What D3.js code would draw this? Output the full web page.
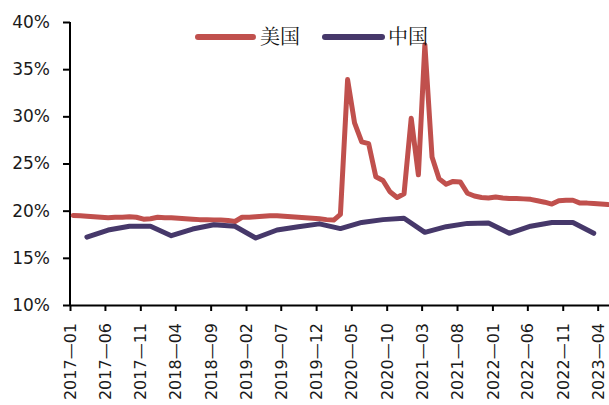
<!DOCTYPE html>
<html><head><meta charset="utf-8">
<script src="https://cdn.jsdelivr.net/npm/d3@7"></script>
<style>body{margin:0;background:#fff} svg{display:block}</style>
</head><body><svg id="c" width="609" height="405"></svg>
<script>
// ---- data ----
const seriesNames = ["美国", "中国"];
const usStart = "2017-01";   // monthly
const usValues = [19.5,19.45,19.4,19.35,19.3,19.25,19.3,19.3,19.35,19.3,19.1,19.15,
  19.3,19.25,19.25,19.2,19.15,19.1,19.05,19.05,19.0,19.0,18.95,18.85,
  19.3,19.3,19.35,19.4,19.45,19.45,19.4,19.35,19.3,19.25,19.2,19.15,
  19.05,19.0,19.6,33.9,29.3,27.3,27.1,23.6,23.2,22.0,21.4,21.8,
  29.8,23.8,37.6,25.7,23.4,22.8,23.1,23.05,21.85,21.55,21.4,21.35,
  21.45,21.35,21.3,21.3,21.25,21.2,21.05,20.9,20.7,21.05,21.1,21.1,
  20.8,20.8,20.75,20.7,20.65];
const cnStart = "2017-03";   // quarterly
const cnValues = [17.2,17.95,18.35,18.35,17.35,18.05,18.5,18.35,17.1,17.95,18.3,18.6,
  18.1,18.75,19.05,19.2,17.7,18.3,18.65,18.7,17.6,18.35,18.75,18.75,17.6];
const xTickLabels = ["2017-01","2017-06","2017-11","2018-04","2018-09","2019-02","2019-07",
  "2019-12","2020-05","2020-10","2021-03","2021-08","2022-01","2022-06","2022-11","2023-04"];
const yTicks = [10,15,20,25,30,35,40];
const colors = ["#C0504D", "#46386A"];

// ---- helpers ----
const parseYM = s => { const [y,m] = s.split("-").map(Number); return new Date(y, m-1, 1); };
const mid = d => new Date(d.getFullYear(), d.getMonth(), 15);
const usData = usValues.map((v,i) => ({date: mid(d3.timeMonth.offset(parseYM(usStart), i)), v}));
const cnData = cnValues.map((v,i) => ({date: mid(d3.timeMonth.offset(parseYM(cnStart), 3*i)), v}));

const svg = d3.select("#c");
const x = d3.scaleTime().domain([new Date(2017,0,1), new Date(2023,4,20)]).range([70, 609]);
const y = d3.scaleLinear().domain([10, 40]).range([305, 22]);
const font = "'DejaVu Sans', sans-serif";

// y axis
const yAxis = svg.append("g").attr("transform","translate(70,0)")
  .call(d3.axisLeft(y).tickValues(yTicks).tickSize(7).tickPadding(13).tickFormat(d => d + "%"));
yAxis.select(".domain").attr("stroke","#000").attr("stroke-width",2).attr("d","M0,22V305");
yAxis.selectAll(".tick line").attr("stroke","#000").attr("stroke-width",2);
yAxis.selectAll("text").attr("font-family",font).attr("font-size",17).attr("fill","#1a1a1a");

// x axis
const xTickDates = xTickLabels.map(parseYM);
const xAxis = svg.append("g").attr("transform","translate(0,305)")
  .call(d3.axisBottom(x).tickValues(xTickDates).tickSize(6).tickSizeOuter(0).tickFormat((d,i) => xTickLabels[i].replace("-", "—")));
xAxis.select(".domain").attr("stroke","#000").attr("stroke-width",2);
xAxis.selectAll(".tick line").attr("stroke","#000").attr("stroke-width",2);
xAxis.selectAll("text").attr("font-family",font).attr("font-size",16).attr("fill","#1a1a1a")
  .attr("text-anchor","end").attr("transform","rotate(-90)")
  .attr("x", -18).attr("y", 0).attr("dy","0.35em");

// lines
const line = d3.line().x(d => x(d.date)).y(d => y(d.v));
[usData, cnData].forEach((data, k) => {
  svg.append("path").datum(data).attr("d", line).attr("fill","none")
    .attr("stroke", colors[k]).attr("stroke-width", 5)
    .attr("stroke-linejoin","round").attr("stroke-linecap","round");
});

// legend
const legendPos = [{x1:198, x2:253, tx:260}, {x1:325, x2:382, tx:388}];
legendPos.forEach((p,k) => {
  svg.append("line").attr("x1",p.x1).attr("x2",p.x2).attr("y1",37).attr("y2",37)
    .attr("stroke",colors[k]).attr("stroke-width",6).attr("stroke-linecap","round");
  svg.append("text").attr("x",p.tx).attr("y",37).attr("dy","0.36em")
    .attr("font-family","'Noto Serif CJK SC','Noto Sans CJK SC',sans-serif")
    .attr("font-size",20).attr("fill","#111").text(seriesNames[k]);
});
</script></body></html>
